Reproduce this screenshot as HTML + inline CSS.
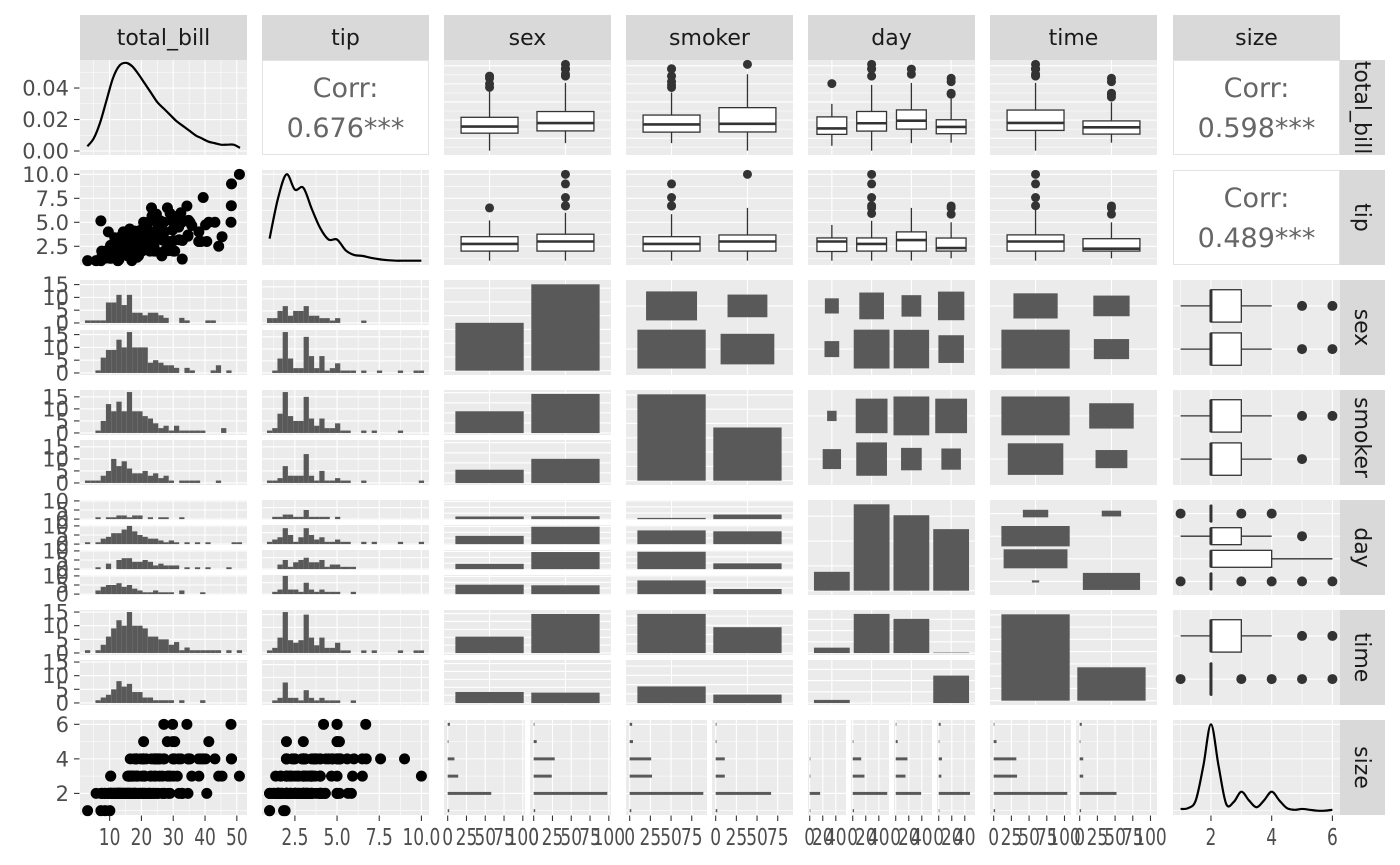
<!DOCTYPE html>
<html><head><meta charset="utf-8">
<style>
html,body{margin:0;padding:0;background:#fff;}
svg{display:block;font-family:"DejaVu Sans","Liberation Sans",sans-serif;}
</style></head>
<body>
<svg id="chart" width="1400" height="865" viewBox="0 0 1400 865" xmlns="http://www.w3.org/2000/svg"></svg>
<script>
// ---------------- data ----------------
const vars = ['total_bill','tip','sex','smoker','day','time','size'];
const sexLv = ['Female','Male'], smokerLv = ['No','Yes'], dayLv = ['Fri','Sat','Sun','Thur'], timeLv = ['Dinner','Lunch'];
const corrTipTb = '0.676***', corrSizeTb = '0.598***', corrSizeTip = '0.489***';
const tbVals = [16.99,10.34,21.01,23.68,24.59,25.29,8.77,26.88,15.04,14.78,10.27,35.26,15.42,18.43,14.83,21.58,10.33,16.29,16.97,20.65,17.92,20.29,15.77,39.42,19.82,17.81,13.37,12.69,21.7,19.65,9.55,18.35,15.06,20.69,17.78,24.06,16.31,16.93,18.69,31.27,16.04,17.46,13.94,9.68,30.4,18.29,22.23,32.4,28.55,18.04,12.54,10.29,34.81,9.94,25.56,19.49,38.01,26.41,11.24,48.27,20.29,13.81,11.02,18.29,17.59,20.08,16.45,3.07,20.23,15.01,12.02,17.07,26.86,25.28,14.73,10.51,17.92,27.2,22.76,17.29,19.44,16.66,10.07,32.68,15.98,34.83,13.03,18.28,24.71,21.16,28.97,22.49,5.75,16.32,22.75,40.17,27.28,12.03,21.01,12.46,11.35,15.38,44.3,22.42,20.92,15.36,20.49,25.21,18.24,14.31,14,7.25,38.07,23.95,25.71,17.31,29.93,10.65,12.43,24.08,11.69,13.42,14.26,15.95,12.48,29.8,8.52,14.52,11.38,22.82,19.08,20.27,11.17,12.26,18.26,8.51,10.33,14.15,16,13.16,17.47,34.3,41.19,27.05,16.43,8.35,18.64,11.87,9.78,7.51,14.07,13.13,17.26,24.55,19.77,29.85,48.17,25,13.39,16.49,21.5,12.66,16.21,13.81,17.51,24.52,20.76,31.71,10.59,10.63,50.81,15.81,7.25,31.85,16.82,32.9,17.89,14.48,9.6,34.63,34.65,23.33,45.35,23.17,40.55,20.69,20.9,30.46,18.15,23.1,15.69,19.81,28.44,15.48,16.58,7.56,10.34,43.11,13,13.51,18.71,12.74,13,16.4,20.53,16.47,26.59,38.73,24.27,12.76,30.06,25.89,48.33,13.27,28.17,12.9,28.15,11.59,7.74,30.14,12.16,13.42,8.58,15.98,13.42,16.27,10.09,20.45,13.28,22.12,24.01,15.69,11.61,10.77,15.53,10.07,12.6,32.83,35.83,29.03,27.18,22.67,17.82,18.78];
const tipVals = [1.01,1.66,3.5,3.31,3.61,4.71,2,3.12,1.96,3.23,1.71,5,1.57,3,3.02,3.92,1.67,3.71,3.5,3.35,4.08,2.75,2.23,7.58,3.18,2.34,2,2,4.3,3,1.45,2.5,3,2.45,3.27,3.6,2,3.07,2.31,5,2.24,2.54,3.06,1.32,5.6,3,5,6,2.05,3,2.5,2.6,5.2,1.56,4.34,3.51,3,1.5,1.76,6.73,3.21,2,1.98,3.76,2.64,3.15,2.47,1,2.01,2.09,1.97,3,3.14,5,2.2,1.25,3.08,4,3,2.71,3,3.4,1.83,5,2.03,5.17,2,4,5.85,3,3,3.5,1,4.3,3.25,4.73,4,1.5,3,1.5,2.5,3,2.5,3.48,4.08,1.64,4.06,4.29,3.76,4,3,1,4,2.55,4,3.5,5.07,1.5,1.8,2.92,2.31,1.68,2.5,2,2.52,4.2,1.48,2,2,2.18,1.5,2.83,1.5,2,3.25,1.25,2,2,2,2.75,3.5,6.7,5,5,2.3,1.5,1.36,1.63,1.73,2,2.5,2,2.74,2,2,5.14,5,3.75,2.61,2,3.5,2.5,2,2,3,3.48,2.24,4.5,1.61,2,10,3.16,5.15,3.18,4,3.11,2,2,4,3.55,3.68,5.65,3.5,6.5,3,5,3.5,2,3.5,4,1.5,4.19,2.56,2.02,4,1.44,2,5,2,2,4,2.01,2,2.5,4,3.23,3.41,3,2.03,2.23,2,5.16,9,2.5,6.5,1.1,3,1.5,1.44,3.09,2.2,3.48,1.92,3,1.58,2.5,2,3,2.72,2.88,2,3,3.39,1.47,3,1.25,1,1.17,4.67,5.92,2,2,1.75,3];
const sizeVals = [2,3,3,2,4,4,2,4,2,2,2,4,2,4,2,2,3,3,3,3,2,2,2,4,2,4,2,2,2,2,2,4,2,4,2,3,3,3,3,3,3,2,2,2,4,2,2,4,3,2,2,2,4,2,4,2,4,2,2,4,2,2,2,4,3,3,2,1,2,2,2,3,2,2,2,2,2,4,2,2,2,2,1,2,2,4,2,2,2,2,2,2,2,2,2,4,2,2,2,2,2,2,3,2,2,2,2,2,2,2,2,1,3,2,3,2,4,2,2,4,2,2,2,2,2,6,2,2,2,3,2,2,2,2,2,2,2,2,2,2,2,6,5,6,2,2,3,2,2,2,2,2,3,4,4,5,6,4,2,4,4,2,3,2,2,3,2,4,2,2,3,2,2,2,2,2,2,2,2,2,4,2,3,4,2,5,3,5,3,3,2,2,2,2,2,2,2,4,2,2,3,2,2,2,4,3,3,4,2,2,3,4,4,2,3,2,5,2,2,4,2,2,1,3,2,2,2,4,2,2,4,3,2,2,2,2,2,2,3,3,2,2,2,2];
const tbDensX = [3,5,7,9,11,13,15,17,19,21,23,25,27,29,31,33,35,37,39,41,43,45,47,49,51];
const tbDensY = [0.003,0.008,0.018,0.032,0.046,0.054,0.056,0.054,0.049,0.043,0.037,0.031,0.027,0.023,0.019,0.016,0.013,0.010,0.008,0.006,0.005,0.004,0.004,0.004,0.002];
const tipDensX = [1,1.5,2,2.5,3,3.5,4,4.5,5,5.5,6,6.5,7,7.5,8,8.5,9,9.5,10];
const tipDensY = [3.3,7.5,10,8.4,8.6,6.4,4.4,3.2,3.2,2.1,1.6,1.5,1.3,1.15,1.05,1.0,1.0,1.0,1.0];
const sizeDensX = [1,1.25,1.5,1.75,2,2.25,2.5,2.75,3,3.25,3.5,3.75,4,4.25,4.5,4.75,5,5.25,5.5,5.75,6];
const sizeDensY = [1.1,1.15,1.6,3.6,6,3.6,1.4,1.5,2.1,1.6,1.2,1.6,2.1,1.6,1.15,1.05,1.1,1.05,1.0,1.0,1.05];
const tbBySex = [[3.07,12.75,16.4,21.52,35.83],[7.25,14.0,18.35,24.71,40.55]];
const tbBySexOut = [[38.07,43.11,44.3,40.0],[44.3,48.27,48.17,50.81,45.35,48.33]];
const tbBySmoker = [[7.25,13.33,17.59,22.76,35.26],[3.07,13.42,17.92,26.86,45.35]];
const tbBySmokerOut = [[38.01,39.42,48.27,48.33,44.3,41.19],[50.81]];
const tbByDay = [[5.75,12.1,15.38,21.75,28.97],[3.07,13.9,18.24,24.74,39.42],[7.25,14.99,19.63,25.6,40.55],[7.51,12.44,16.2,20.16,32.68]];
const tbByDayOut = [[40.17],[48.27,50.81,48.33,44.3],[45.35,48.17],[34.83,41.19,43.11,34.3]];
const tbByTime = [[3.07,14.26,18.39,25.53,40.55],[7.51,12.24,15.97,19.53,29.8]];
const tbByTimeOut = [[48.27,50.81,48.33,44.3,45.35,48.17],[32.68,34.83,41.19,43.11,34.3]];
const tipBySex = [[1,2,2.75,3.5,5.2],[1,2,3,3.76,6]];
const tipBySexOut = [[6.5],[6.7,7.58,9,10,6.73]];
const tipBySmoker = [[1,2,2.74,3.5,5.85],[1,2,3,3.68,6.5]];
const tipBySmokerOut = [[6.7,7.58,9,6.73],[10]];
const tipByDay = [[1,1.96,3.0,3.37,4.73],[1,2,2.75,3.37,5.16],[1.01,2,3.15,4,6.5],[1.25,2,2.31,3.36,5]];
const tipByDayOut = [[],[6.5,7.58,9,10,5.92,6.73],[],[5.85,6.7,6.5]];
const tipByTime = [[1,2,3,3.69,6.5],[1.25,2,2.25,3.29,5]];
const tipByTimeOut = [[7.58,9,10,6.73],[5.85,6.7,6.5]];
const sizeBySex = [[1,2,2,3,4],[1,2,2,3,4]];
const sizeBySexOut = [[5,6],[5,6]];
const sizeBySmoker = [[1,2,2,3,4],[1,2,2,3,4]];
const sizeBySmokerOut = [[5,6],[5]];
const sizeByDay = [[2,2,2,2,2],[1,2,2,3,4],[2,2,2,4,6],[2,2,2,2,2]];
const sizeByDayOut = [[1,3,4],[5],[],[1,3,4,5,6]];
const sizeByTime = [[1,2,2,3,4],[2,2,2,2,2]];
const sizeByTimeOut = [[5,6],[1,3,4,5,6]];
const sexBySmoker = [[54,33],[97,60]];
const sexByDay = [[9,28,18,32],[10,59,58,30]];
const sexByTime = [[52,35],[124,33]];
const smokerByDay = [[4,45,57,45],[15,42,19,17]];
const smokerByTime = [[106,45],[70,23]];
const dayByTime = [[12,7],[87,0],[76,0],[1,61]];
const sexCounts = [87,157], smokerCounts = [151,93], dayCounts = [19,87,76,62], timeCounts = [176,68];
const tbHistSex = [
 [1,1,1,1,8,8,11,7,11,4,4,3,4,4,3,2,0,0,2,1,0,0,0,1,1,0,0,0,0,0],
 [0,0,1,6,9,9,13,10,16,10,10,10,4,5,4,3,3,2,0,2,1,0,0,0,1,3,0,1,0,0]];
const tbHistSmoker = [
 [0,0,1,5,12,9,13,9,17,9,9,7,6,4,2,3,1,3,1,1,1,1,1,0,0,0,2,0,0,0],
 [1,1,1,3,5,10,7,9,6,4,4,5,3,4,2,3,1,0,1,1,1,1,0,0,0,1,0,0,0,0]];
const tbHistDay = [
 [0,0,1,0,1,1,2,2,1,2,2,0,1,0,1,1,0,0,1,0,0,0,0,0,0,0,0,0,0,0],
 [1,0,1,3,4,6,6,8,10,7,5,4,3,3,2,1,2,1,0,1,0,1,0,1,0,0,0,0,1,1],
 [0,0,1,0,3,0,5,6,6,4,4,5,4,2,3,2,2,2,0,1,0,1,0,1,0,0,0,1,0,0],
 [0,0,2,4,5,5,6,4,5,3,2,1,1,2,1,1,1,0,2,0,0,0,1,0,0,0,0,0,0,0]];
const tbHistTime = [
 [1,0,1,3,6,9,12,10,15,10,10,9,6,6,5,5,3,4,1,2,1,1,1,1,1,1,0,1,0,1],
 [0,0,1,2,3,5,8,6,7,4,4,2,2,1,1,1,1,0,1,0,0,0,1,0,0,0,0,0,0,0]];
const tipHistSex = [
 [2,2,5,7,3,5,5,7,3,3,2,2,1,2,0,0,0,0,1,0,0,0,0,0,0,0,0,0,0,0],
 [0,1,6,17,6,2,2,15,7,2,7,1,2,4,1,1,1,0,1,0,0,1,0,0,0,1,0,0,1,1]];
const tipHistSmoker = [
 [1,2,8,17,7,5,5,15,6,3,6,2,2,4,1,1,0,0,1,0,1,0,0,0,0,1,0,0,0,0],
 [1,1,2,7,3,3,3,12,3,1,5,1,1,2,1,1,0,0,1,0,0,0,0,0,0,0,0,0,0,1]];
const tipHistDay = [
 [0,1,1,2,2,1,1,4,1,1,1,1,0,1,0,0,0,0,0,0,0,0,0,0,0,0,0,0,0,0],
 [1,2,3,7,4,1,3,7,4,2,3,1,1,2,1,1,0,0,1,0,1,0,0,0,0,1,0,0,0,1],
 [0,0,2,4,1,3,4,5,3,3,4,1,2,2,1,1,1,0,0,0,0,0,0,0,0,0,0,0,0,0],
 [0,1,2,8,2,2,1,5,2,1,2,1,1,1,0,0,1,0,0,0,0,0,0,0,0,0,0,0,0,0]];
const tipHistTime = [
 [1,2,6,16,5,4,5,15,6,3,6,2,2,4,1,1,0,0,1,0,1,0,0,0,0,1,0,0,1,1],
 [0,1,2,8,2,2,1,5,2,1,2,1,1,1,0,0,1,0,0,0,0,0,0,0,0,0,0,0,0,0]];
const sizeLevels = [1,2,3,4,5,6];
const sizeCntSex = [[2,58,14,9,1,3],[2,98,24,28,4,1]];
const sizeCntSmoker = [[2,89,27,26,4,3],[2,67,11,11,1,1]];
const sizeCntDay = [[1,16,1,1,0,0],[2,53,18,13,1,0],[0,39,15,18,3,1],[1,48,4,5,1,3]];
const sizeCntTime = [[2,104,33,32,4,1],[2,52,5,5,1,3]];

// ---------------- helpers ----------------
const NS = 'http://www.w3.org/2000/svg';
const svg = document.getElementById('chart');
function el(tag, attrs, parent){const e=document.createElementNS(NS,tag);for(const k in attrs)e.setAttribute(k,attrs[k]);(parent||svg).appendChild(e);return e;}
function nm(e, name){
  
  
  return e;
}
function lin(d,r0,r1){return v=>r0+(v-d[0])/(d[1]-d[0])*(r1-r0);}
function subs(s,len,n){const g=5,sl=(len-g*(n-1))/n;return Array.from({length:n},(_,i)=>[s+i*(sl+g),sl]);}
function seqTicks(lo,hi,step){const a=[];for(let v=Math.ceil(lo/step)*step;v<=hi+1e-9;v+=step)a.push(+v.toFixed(6));return a;}
const cx=[80,262,444,626,808,990,1173], ry=[60,170,280,390,500,610,720], PW=167, PH=95;
const TB=[0.683,53.197], TIP=[0.55,10.45], SZ=[0.75,6.25];
const TBmaj=[10,20,30,40,50], TBmin=[5,15,25,35,45];
const TIPmaj=[2.5,5,7.5,10], TIPmin=[1.25,3.75,6.25,8.75];
const SZmaj=[2,4,6], SZmin=[1,3,5];
const FILL='#595959';

function grid(g,x,y,w,h,X,Y,xMaj,xMin,yMaj,yMin){
  const r=el('rect',{x:x,y:y,width:w,height:h,fill:'#EBEBEB'},g);
  nm(r,'panel-background');
  const L=(x1,y1,x2,y2,sw)=>el('line',{x1,y1,x2,y2,stroke:'#fff','stroke-width':sw},g);
  (xMin||[]).forEach(v=>{const p=X(v);if(p>=x&&p<=x+w)L(p,y,p,y+h,0.55);});
  (yMin||[]).forEach(v=>{const p=Y(v);if(p>=y&&p<=y+h)L(x,p,x+w,p,0.55);});
  (xMaj||[]).forEach(v=>{const p=X(v);if(p>=x&&p<=x+w)L(p,y,p,y+h,1.1);});
  (yMaj||[]).forEach(v=>{const p=Y(v);if(p>=y&&p<=y+h)L(x,p,x+w,p,1.1);});
}
function idx(n){return Array.from({length:n},(_,i)=>i+1);}
function countMaj(Y){return Y>80?25:(Y>30?20:5);}
function leftLabels(Y,ticks,fmt,lo,hi){
  ticks.forEach(v=>{const p=Y(v);if(p<lo-1||p>hi+1)return;
    const t=el('line',{x1:74,y1:p,x2:79.5,y2:p,stroke:'#333','stroke-width':1.1});
    nm(t,'y-tick');
    const tx=el('text',{x:69,y:p+7.5,'text-anchor':'end','font-size':21,fill:'#4D4D4D'});
    tx.textContent=fmt(v);
    nm(tx,'y-tick-label');
  });
}
function bottomLabels(X,ticks,fmt,lo,hi){
  ticks.forEach(v=>{const p=X(v);if(p<lo-1||p>hi+1)return;
    const t=el('line',{x1:p,y1:815.5,x2:p,y2:821,stroke:'#333','stroke-width':1.1});
    nm(t,'x-tick');
    const tx=el('text',{x:0,y:0,'text-anchor':'middle','font-size':23,fill:'#4D4D4D',transform:'translate('+p+',845) scale(0.74,1)'});
    tx.textContent=fmt(v);
    nm(tx,'x-tick-label');
  });
}
function smoothPath(pts){
  let d='M'+pts[0][0]+','+pts[0][1];
  for(let i=0;i<pts.length-1;i++){
    const p0=pts[Math.max(0,i-1)],p1=pts[i],p2=pts[i+1],p3=pts[Math.min(pts.length-1,i+2)];
    const c1=[p1[0]+(p2[0]-p0[0])/6,p1[1]+(p2[1]-p0[1])/6],c2=[p2[0]-(p3[0]-p1[0])/6,p2[1]-(p3[1]-p1[1])/6];
    d+=' C'+c1[0]+','+c1[1]+' '+c2[0]+','+c2[1]+' '+p2[0]+','+p2[1];
  }
  return d;
}
function group(name){const g=el('g',{});nm(g,name);return g;}

// ---------------- panel types ----------------
function densityPanel(name,x,y,xd,xMaj,xMin,yd,yMaj,yMin,dx,dy){
  const g=group(name);
  const X=lin(xd,x,x+PW),Y=lin(yd,y+PH,y);
  grid(g,x,y,PW,PH,X,Y,xMaj,xMin,yMaj,yMin);
  const p=el('path',{d:smoothPath(dx.map((v,i)=>[X(v),Y(dy[i])])),fill:'none',stroke:'#000','stroke-width':2.2},g);
  nm(p,'density-line');
  return Y;
}
function corrPanel(name,x,y,val){
  const g=group(name);
  const r=el('rect',{x:x+0.5,y:y+0.5,width:PW-1,height:PH-1,fill:'#fff',stroke:'#E3E3E3','stroke-width':1},g);
  nm(r,'corr-panel-background');
  const t1=el('text',{x:x+PW/2,y:y+37,'text-anchor':'middle','font-size':27,fill:'#666'},g);
  t1.textContent='Corr:';
  nm(t1,'corr-label');
  const t2=el('text',{x:x+PW/2,y:y+77,'text-anchor':'middle','font-size':27,fill:'#666'},g);
  t2.textContent=val;
  nm(t2,'corr-value');
}
function scatterPanel(name,x,y,xd,xMaj,xMin,yd,yMaj,yMin,xv,yv){
  const g=group(name);
  const X=lin(xd,x,x+PW),Y=lin(yd,y+PH,y);
  grid(g,x,y,PW,PH,X,Y,xMaj,xMin,yMaj,yMin);
  xv.forEach((v,i)=>{const c=el('circle',{cx:X(v),cy:Y(yv[i]),r:5.5,fill:'#000'},g);
    
    });
  return [X,Y];
}
function vboxPanel(name,x,y,yd,yMaj,yMin,stats,outs){
  const g=group(name);const n=stats.length;
  const X=lin([0.4,n+0.6],x,x+PW),Y=lin(yd,y+PH,y);
  grid(g,x,y,PW,PH,X,Y,idx(n),[],yMaj,yMin);
  stats.forEach((s,i)=>{const c=i+1;
    const bg=el('g',{},g);nm(bg,'boxplot');
    el('line',{x1:X(c),x2:X(c),y1:Y(s[0]),y2:Y(s[1]),stroke:'#333','stroke-width':1.3},bg);
    el('line',{x1:X(c),x2:X(c),y1:Y(s[3]),y2:Y(s[4]),stroke:'#333','stroke-width':1.3},bg);
    el('rect',{x:X(c-0.375),y:Y(s[3]),width:X(c+0.375)-X(c-0.375),height:Math.max(0.5,Y(s[1])-Y(s[3])),fill:'#fff',stroke:'#333','stroke-width':1.3},bg);
    el('line',{x1:X(c-0.375),x2:X(c+0.375),y1:Y(s[2]),y2:Y(s[2]),stroke:'#333','stroke-width':2.6},bg);
    outs[i].forEach(o=>{const p=el('circle',{cx:X(c),cy:Y(o),r:4.5,fill:'#333'},bg);
      
      });
  });
}
function hboxPanel(name,x,y,stats,outs){
  const g=group(name);const n=stats.length;
  const X=lin(SZ,x,x+PW),Y=lin([0.4,n+0.6],y,y+PH);
  grid(g,x,y,PW,PH,X,Y,SZmaj,SZmin,idx(n),[]);
  stats.forEach((s,i)=>{const c=i+1;
    const bg=el('g',{},g);nm(bg,'boxplot');
    el('line',{y1:Y(c),y2:Y(c),x1:X(s[0]),x2:X(s[1]),stroke:'#333','stroke-width':1.3},bg);
    el('line',{y1:Y(c),y2:Y(c),x1:X(s[3]),x2:X(s[4]),stroke:'#333','stroke-width':1.3},bg);
    const top=Y(c-0.375),bot=Y(c+0.375);
    el('rect',{y:top,x:X(s[1]),height:bot-top,width:Math.max(0.5,X(s[3])-X(s[1])),fill:'#fff',stroke:'#333','stroke-width':1.3},bg);
    el('line',{y1:top,y2:bot,x1:X(s[2]),x2:X(s[2]),stroke:'#333','stroke-width':3},bg);
    outs[i].forEach(o=>{const p=el('circle',{cy:Y(c),cx:X(o),r:5,fill:'#333'},bg);
      
      });
  });
}
function histPanel(name,x,y,xd,xMaj,xMin,bin0,bw,facets){
  const g=group(name);
  const M=Math.max(...facets.flat()),yd=[-0.05*M,1.05*M];
  const scales=[];
  subs(y,PH,facets.length).forEach(([sy,sh],k)=>{
    const X=lin(xd,x,x+PW),Y=lin(yd,sy+sh,sy);scales.push([Y,sy,sh]);
    grid(g,x,sy,PW,sh,X,Y,xMaj,xMin,seqTicks(0,M*1.05,5),seqTicks(2.5,M*1.05,5));
    facets[k].forEach((c,i)=>{if(!c)return;const c0=bin0+i*bw;
      const r=el('rect',{x:X(c0-bw/2),y:Y(c),width:X(c0+bw/2)-X(c0-bw/2),height:Y(0)-Y(c),fill:FILL},g);
      
      });
  });
  return scales;
}
function barDiagPanel(name,x,y,counts){
  const g=group(name);const n=counts.length,M=Math.max(...counts);
  const X=lin([0.4,n+0.6],x,x+PW),Y=lin([-0.05*M,1.05*M],y+PH,y);
  const st=countMaj(M);
  grid(g,x,y,PW,PH,X,Y,idx(n),[],seqTicks(0,M*1.05,st),seqTicks(st/2,M*1.05,st));
  counts.forEach((c,i)=>{const r=el('rect',{x:X(i+1-0.45),y:Y(c),width:X(i+1.45)-X(i+1-0.45),height:Y(0)-Y(c),fill:FILL},g);
    
    });
}
function ratioPanel(name,x,y,tab){
  const g=group(name);const ny=tab.length,nx=tab[0].length,M=Math.max(...tab.flat());
  const X=lin([0.4,nx+0.6],x,x+PW),Y=lin([0.4,ny+0.6],y,y+PH);
  grid(g,x,y,PW,PH,X,Y,idx(nx),[],idx(ny),[]);
  const cw=X(1.5)-X(0.5),ch=Y(1.5)-Y(0.5);
  tab.forEach((row,j)=>row.forEach((c,i)=>{if(!c)return;const s=Math.sqrt(c/M)*0.9;
    const w=cw*s,h=ch*s;
    const r=el('rect',{x:X(i+1)-w/2,y:Y(j+1)-h/2,width:w,height:h,fill:FILL},g);
    
    }));
}
function facetBarPanel(name,x,y,tab){
  const g=group(name);const nf=tab.length,nx=tab[0].length,M=Math.max(...tab.flat());
  const yd=[-0.05*M,1.1*M],st=countMaj(M);
  subs(y,PH,nf).forEach(([sy,sh],k)=>{
    const X=lin([0.4,nx+0.6],x,x+PW),Y=lin(yd,sy+sh,sy);
    grid(g,x,sy,PW,sh,X,Y,idx(nx),[],seqTicks(0,M*1.1,st),seqTicks(st/2,M*1.1,st));
    tab[k].forEach((c,i)=>{if(!c)return;
      const r=el('rect',{x:X(i+1-0.45),y:Y(c),width:X(i+1.45)-X(i+1-0.45),height:Y(0)-Y(c),fill:FILL},g);
      
      });
  });
}
function sizeFacetPanel(name,x,y,tab,step){
  const g=group(name);const nf=tab.length,M=Math.max(...tab.flat());
  const xd=[-0.05*M,1.05*M],bw=5/29;
  const Y=lin(SZ,y+PH,y);
  subs(x,PW,nf).forEach(([sx,sw])=>{
    const X=lin(xd,sx,sx+sw);
    grid(g,sx,y,sw,PH,X,Y,seqTicks(0,M*1.05,step),seqTicks(step/2,M*1.05,step),SZmaj,SZmin);
    bottomLabels(X,seqTicks(0,M*1.05,step),v=>String(v),sx,sx+sw);
  });
  subs(x,PW,nf).forEach(([sx,sw],k)=>{
    const X=lin(xd,sx,sx+sw);
    tab[k].forEach((c,i)=>{if(!c)return;const s=sizeLevels[i];
      const r=el('rect',{x:X(0),y:Y(s+bw/2),width:X(c)-X(0),height:Y(s-bw/2)-Y(s+bw/2),fill:FILL},g);
      
      });
  });
}
function T(a){return a[0].map((_,i)=>a.map(r=>r[i]));}

// ---------------- strips ----------------
vars.forEach((v,i)=>{
  const r=el('rect',{x:cx[i],y:15,width:PW,height:45,fill:'#D9D9D9'});
  nm(r,'column-strip');
  const t=el('text',{x:cx[i]+PW/2,y:45,'text-anchor':'middle','font-size':22,fill:'#1A1A1A'});
  t.textContent=v;
  nm(t,'column-strip-label');
  const r2=el('rect',{x:1340,y:ry[i],width:45,height:PH,fill:'#D9D9D9'});
  nm(r2,'row-strip');
  const t2=el('text',{x:0,y:0,'text-anchor':'middle','font-size':22,fill:'#1A1A1A',transform:'translate(1355,'+(ry[i]+PH/2)+') rotate(90)'});
  t2.textContent=v;
  nm(t2,'row-strip-label');
});

// ---------------- row 1 ----------------
const Yd=densityPanel('total-bill-density',cx[0],ry[0],TB,TBmaj,TBmin,[-0.00254,0.0578],[0,0.02,0.04],[0.01,0.03,0.05],tbDensX,tbDensY);
leftLabels(Yd,[0,0.02,0.04],v=>v.toFixed(2),ry[0],ry[0]+PH);
corrPanel('corr-tip-total-bill',cx[1],ry[0],corrTipTb);
vboxPanel('box-total-bill-sex',cx[2],ry[0],TB,TBmaj,TBmin,tbBySex,tbBySexOut);
vboxPanel('box-total-bill-smoker',cx[3],ry[0],TB,TBmaj,TBmin,tbBySmoker,tbBySmokerOut);
vboxPanel('box-total-bill-day',cx[4],ry[0],TB,TBmaj,TBmin,tbByDay,tbByDayOut);
vboxPanel('box-total-bill-time',cx[5],ry[0],TB,TBmaj,TBmin,tbByTime,tbByTimeOut);
corrPanel('corr-size-total-bill',cx[6],ry[0],corrSizeTb);
// ---------------- row 2 ----------------
const sc2=scatterPanel('scatter-total-bill-tip',cx[0],ry[1],TB,TBmaj,TBmin,TIP,TIPmaj,TIPmin,tbVals,tipVals);
leftLabels(sc2[1],TIPmaj,v=>v.toFixed(1),ry[1],ry[1]+PH);
densityPanel('tip-density',cx[1],ry[1],TIP,TIPmaj,TIPmin,TIP,TIPmaj,TIPmin,tipDensX,tipDensY);
vboxPanel('box-tip-sex',cx[2],ry[1],TIP,TIPmaj,TIPmin,tipBySex,tipBySexOut);
vboxPanel('box-tip-smoker',cx[3],ry[1],TIP,TIPmaj,TIPmin,tipBySmoker,tipBySmokerOut);
vboxPanel('box-tip-day',cx[4],ry[1],TIP,TIPmaj,TIPmin,tipByDay,tipByDayOut);
vboxPanel('box-tip-time',cx[5],ry[1],TIP,TIPmaj,TIPmin,tipByTime,tipByTimeOut);
corrPanel('corr-size-tip',cx[6],ry[1],corrSizeTip);
// ---------------- rows 3-6 ----------------
const TBbin0=3.07,TBbw=47.74/29,TIPbin0=1,TIPbw=9/29;
const tbH=[tbHistSex,tbHistSmoker,tbHistDay,tbHistTime], tipH=[tipHistSex,tipHistSmoker,tipHistDay,tipHistTime];
const rnames=['sex','smoker','day','time'];
for(let r=0;r<4;r++){
  const sc=histPanel('hist-total-bill-by-'+rnames[r],cx[0],ry[r+2],TB,TBmaj,TBmin,TBbin0,TBbw,tbH[r]);
  sc.forEach(([Y,sy,sh])=>leftLabels(Y,[0,5,10,15],v=>String(v),sy,sy+sh));
  histPanel('hist-tip-by-'+rnames[r],cx[1],ry[r+2],TIP,TIPmaj,TIPmin,TIPbin0,TIPbw,tipH[r]);
}
barDiagPanel('bar-sex',cx[2],ry[2],sexCounts);
ratioPanel('ratio-smoker-sex',cx[3],ry[2],sexBySmoker);
ratioPanel('ratio-day-sex',cx[4],ry[2],sexByDay);
ratioPanel('ratio-time-sex',cx[5],ry[2],sexByTime);
hboxPanel('box-size-sex',cx[6],ry[2],sizeBySex,sizeBySexOut);

facetBarPanel('facetbar-sex-by-smoker',cx[2],ry[3],T(sexBySmoker));
barDiagPanel('bar-smoker',cx[3],ry[3],smokerCounts);
ratioPanel('ratio-day-smoker',cx[4],ry[3],smokerByDay);
ratioPanel('ratio-time-smoker',cx[5],ry[3],smokerByTime);
hboxPanel('box-size-smoker',cx[6],ry[3],sizeBySmoker,sizeBySmokerOut);

facetBarPanel('facetbar-sex-by-day',cx[2],ry[4],T(sexByDay));
facetBarPanel('facetbar-smoker-by-day',cx[3],ry[4],T(smokerByDay));
barDiagPanel('bar-day',cx[4],ry[4],dayCounts);
ratioPanel('ratio-time-day',cx[5],ry[4],dayByTime);
hboxPanel('box-size-day',cx[6],ry[4],sizeByDay,sizeByDayOut);

facetBarPanel('facetbar-sex-by-time',cx[2],ry[5],T(sexByTime));
facetBarPanel('facetbar-smoker-by-time',cx[3],ry[5],T(smokerByTime));
facetBarPanel('facetbar-day-by-time',cx[4],ry[5],T(dayByTime));
barDiagPanel('bar-time',cx[5],ry[5],timeCounts);
hboxPanel('box-size-time',cx[6],ry[5],sizeByTime,sizeByTimeOut);
// ---------------- row 7 ----------------
const sc7=scatterPanel('scatter-total-bill-size',cx[0],ry[6],TB,TBmaj,TBmin,SZ,SZmaj,SZmin,tbVals,sizeVals);
leftLabels(sc7[1],SZmaj,v=>String(v),ry[6],ry[6]+PH);
bottomLabels(sc7[0],TBmaj,v=>String(v),cx[0],cx[0]+PW);
const sc8=scatterPanel('scatter-tip-size',cx[1],ry[6],TIP,TIPmaj,TIPmin,SZ,SZmaj,SZmin,tipVals,sizeVals);
bottomLabels(sc8[0],TIPmaj,v=>v.toFixed(1),cx[1],cx[1]+PW);
sizeFacetPanel('size-by-sex',cx[2],ry[6],sizeCntSex,25);
sizeFacetPanel('size-by-smoker',cx[3],ry[6],sizeCntSmoker,25);
sizeFacetPanel('size-by-day',cx[4],ry[6],sizeCntDay,20);
sizeFacetPanel('size-by-time',cx[5],ry[6],sizeCntTime,25);
densityPanel('size-density',cx[6],ry[6],SZ,SZmaj,SZmin,SZ,SZmaj,SZmin,sizeDensX,sizeDensY);
bottomLabels(lin(SZ,cx[6],cx[6]+PW),SZmaj,v=>String(v),cx[6],cx[6]+PW);
</script>
</body></html>
